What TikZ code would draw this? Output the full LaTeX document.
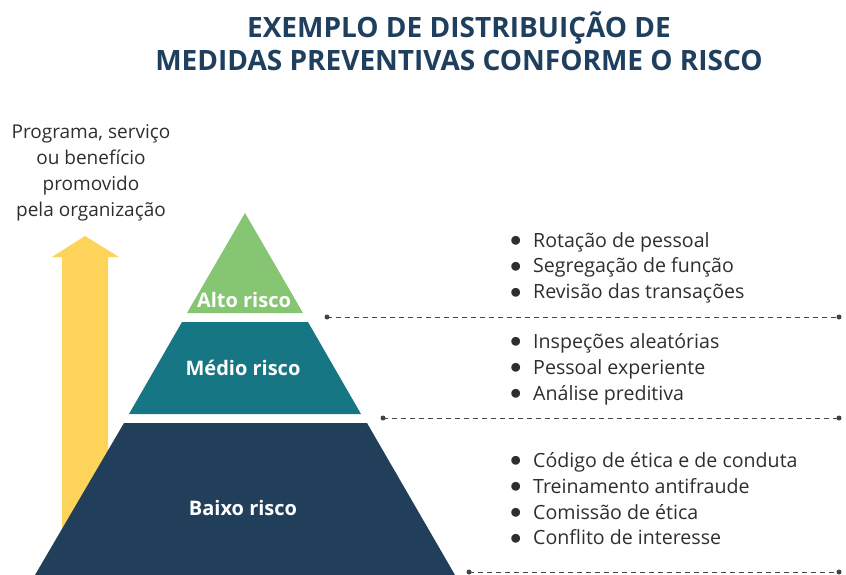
\documentclass[tikz,border=0pt]{standalone}
\usepackage{fontspec}
\setmainfont{Open Sans}
\definecolor{titleblue}{HTML}{1F3F5E}
\definecolor{lvgreen}{HTML}{86C571}
\definecolor{lvteal}{HTML}{177684}
\definecolor{lvnavy}{HTML}{213F5B}
\definecolor{arrowyellow}{HTML}{FDD35A}
\definecolor{txtgrey}{HTML}{2E2E2E}
\definecolor{dashgrey}{HTML}{444444}
\newcommand{\itm}{\makebox[23pt][l]{\raisebox{0.3pt}{\scalebox{1.1}{$\bullet$}}}}
\tikzset{
  levellabel/.style={text=white, font=\fontsize{20}{22}\selectfont\bfseries, inner sep=0pt},
  itemlist/.style={text=txtgrey, font=\fontsize{19.6}{25.9}\selectfont, align=left, anchor=north west, inner sep=0pt},
  sepline/.style={dashgrey, line width=1pt, dash pattern=on 5pt off 4pt},
  sepdot/.style={fill=dashgrey, circle, inner sep=0pt, minimum size=5pt},
}
\begin{document}
\begin{tikzpicture}[x=1pt, y=-1pt]
\useasboundingbox (0,0) rectangle (846,575);
% title
\node[text=titleblue, font=\fontsize{28}{32.5}\selectfont\bfseries, align=center] (title) at (459,41) {EXEMPLO DE DISTRIBUIÇÃO DE\\MEDIDAS PREVENTIVAS CONFORME O RISCO};
% left caption
\node[text=txtgrey, font=\fontsize{19}{26}\selectfont, align=center] (caption) at (91,173) {Programa, serviço\\ou benefício\\promovido\\pela organização};
% yellow arrow
\fill[arrowyellow] (62,575) -- (62,257) -- (52,257) -- (85,236) -- (119,257) -- (108,257) -- (108,575) -- cycle;
% pyramid levels
\fill[lvgreen] (245,213) -- (303,313) -- (187,313) -- cycle;
\fill[lvteal] (182,322) -- (308,322) -- (361,414) -- (129,414) -- cycle;
\fill[lvnavy] (124,423) -- (367,423) -- (455,575) -- (35,575) -- cycle;
\node[levellabel] (alto) at (244,300) {Alto risco};
\node[levellabel] (medio) at (243,368) {Médio risco};
\node[levellabel] (baixo) at (243,508) {Baixo risco};
% separators
\coordinate (s1a) at (327,317); \coordinate (s1b) at (839,317);
\coordinate (s2a) at (383,418); \coordinate (s2b) at (839,418);
\coordinate (s3a) at (469,572); \coordinate (s3b) at (839,572);
\foreach \a/\b in {s1a/s1b, s2a/s2b, s3a/s3b}{
  \draw[sepline] (\a) -- (\b);
  \node[sepdot] at (\a) {};
  \node[sepdot] at (\b) {};
}
% lists
\node[itemlist] (listhigh) at (510,232) {\itm Rotação de pessoal\\\itm Segregação de função\\\itm Revisão das transações};
\node[itemlist] (listmid) at (510,333) {\itm Inspeções aleatórias\\\itm Pessoal experiente\\\itm Análise preditiva};
\node[itemlist] (listlow) at (510,452) {\itm Código de ética e de conduta\\\itm Treinamento antifraude\\\itm Comissão de ética\\\itm Conflito de interesse};
\end{tikzpicture}
\end{document}
